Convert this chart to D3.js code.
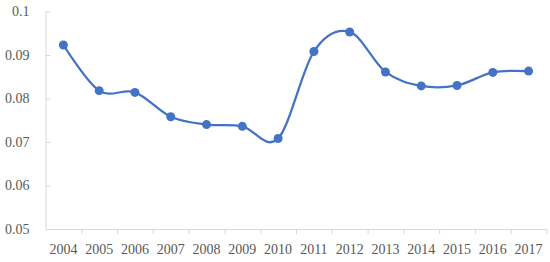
<!DOCTYPE html>
<html>
<head>
<meta charset="utf-8">
<script src="https://cdn.jsdelivr.net/npm/d3@7"></script>
<style>
  body { margin: 0; background: #fff; }
  svg { display: block; }
</style>
</head>
<body>
<svg width="550" height="262"></svg>
<script>
const years = ["2004", "2005", "2006", "2007", "2008", "2009", "2010",
               "2011", "2012", "2013", "2014", "2015", "2016", "2017"];
const values = [0.0923, 0.0818, 0.0814, 0.0758, 0.0740, 0.0736, 0.0708,
                0.0908, 0.0953, 0.0861, 0.0829, 0.0830, 0.0860, 0.0863];
const yTicks = [0.05, 0.06, 0.07, 0.08, 0.09, 0.1];

const svg = d3.select("svg");
const margin = {top: 11.5, right: 3.5, bottom: 33, left: 45.5};
const width = 550, height = 262;
const font = "'Palatino Linotype', 'Book Antiqua', Palatino, 'Liberation Serif', serif";

var x = d3.scaleBand()
    .domain(years)
    .range([margin.left, width - margin.right]);

var y = d3.scaleLinear()
    .domain([0.05, 0.1])
    .range([height - margin.bottom, margin.top]);

// y axis: line with inward ticks
const yAxis = svg.append("g")
    .attr("transform", `translate(${margin.left},0)`)
    .call(d3.axisRight(y).tickValues(yTicks).tickSize(5).tickFormat(d => d3.format("")(+d.toFixed(2))));
yAxis.select(".domain").attr("stroke", "#d9d9d9").attr("d", `M0.5,${y(0.1)}V${y(0.05)}`);
yAxis.selectAll(".tick line").attr("stroke", "#d9d9d9");
yAxis.selectAll(".tick text")
    .attr("x", -16)
    .attr("text-anchor", "end")
    .attr("fill", "#595959")
    .style("font", `14px ${font}`);

// x axis: ticks between categories
const xAxis = svg.append("g")
    .attr("transform", `translate(0,${height - margin.bottom})`);
xAxis.append("line")
    .attr("x1", margin.left).attr("x2", width - margin.right)
    .attr("y1", 0.5).attr("y2", 0.5)
    .attr("stroke", "#d9d9d9");
xAxis.selectAll("line.tk")
    .data(years.slice(1).concat(["end"]))
    .join("line")
    .attr("class", "tk")
    .attr("x1", (d, i) => (i < years.length - 1 ? x(d) : x.range()[1]) + 0.5)
    .attr("x2", (d, i) => (i < years.length - 1 ? x(d) : x.range()[1]) + 0.5)
    .attr("y1", 0).attr("y2", 5)
    .attr("stroke", "#d9d9d9");
xAxis.selectAll("text")
    .data(years)
    .join("text")
    .attr("x", d => x(d) + x.bandwidth() / 2)
    .attr("y", 25)
    .attr("text-anchor", "middle")
    .attr("fill", "#595959")
    .style("font", `14px ${font}`)
    .text(d => d);

const line = d3.line()
    .x((d, i) => x(years[i]) + x.bandwidth() / 2)
    .y(d => y(d))
    .curve(d3.curveCardinal.tension(0));

svg.append("path")
    .datum(values)
    .attr("fill", "none")
    .attr("stroke", "#4472c4")
    .attr("stroke-width", 2.25)
    .attr("stroke-linejoin", "round")
    .attr("d", line);

svg.append("g")
    .selectAll("circle")
    .data(values)
    .join("circle")
    .attr("cx", (d, i) => x(years[i]) + x.bandwidth() / 2)
    .attr("cy", d => y(d))
    .attr("r", 4.5)
    .attr("fill", "#4472c4");
</script>
</body>
</html>
